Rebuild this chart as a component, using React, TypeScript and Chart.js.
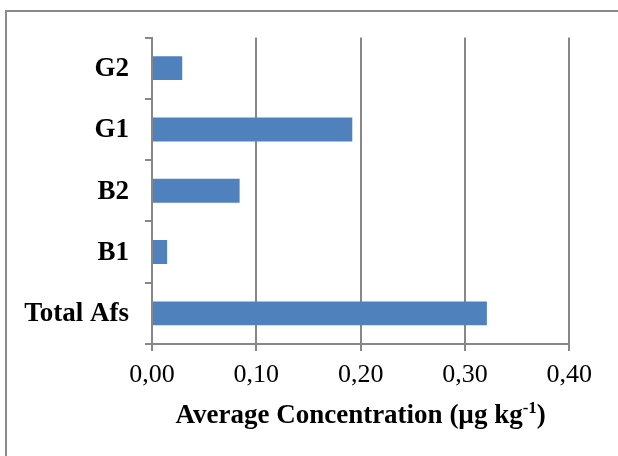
import React, { useEffect, useRef } from "react";
import { Chart, registerables } from "chart.js";

Chart.register(...registerables);

const categories = ["G2", "G1", "B2", "B1", "Total Afs"];
const averageConcentration = [0.029, 0.192, 0.084, 0.0145, 0.321];
const xTickMin = 0;
const xTickMax = 0.4;
const xTickStep = 0.1;
const titleMain = "Average Concentration (µg kg";
const titleSup = "-1";
const titleEnd = ")";

const GRAY = "#878787";
const SERIF = "'Liberation Serif', 'Times New Roman', serif";

export default function App() {
  const ref = useRef<HTMLCanvasElement | null>(null);

  useEffect(() => {
    document.body.style.margin = "0";
    const canvas = ref.current;
    if (!canvas) return;

    const framePlugin = {
      id: "frame",
      beforeDraw(chart: any) {
        const ctx = chart.ctx;
        ctx.save();
        ctx.strokeStyle = "#8a8a8a";
        ctx.lineWidth = 2;
        ctx.beginPath();
        ctx.moveTo(6, 470);
        ctx.lineTo(6, 11);
        ctx.lineTo(640, 11);
        ctx.stroke();
        ctx.restore();
      },
      afterDraw(chart: any) {
        const ctx = chart.ctx;
        const area = chart.chartArea;
        const cx = (area.left + area.right) / 2;
        const y = 423;
        ctx.save();
        ctx.fillStyle = "#000";
        ctx.textBaseline = "alphabetic";
        ctx.font = `bold 27px ${SERIF}`;
        const w1 = ctx.measureText(titleMain).width;
        const w3 = ctx.measureText(titleEnd).width;
        ctx.font = `bold 17px ${SERIF}`;
        const w2 = ctx.measureText(titleSup).width;
        const total = w1 + w2 + w3;
        let x = cx - total / 2;
        ctx.textAlign = "left";
        ctx.font = `bold 27px ${SERIF}`;
        ctx.fillText(titleMain, x, y);
        x += w1;
        ctx.font = `bold 17px ${SERIF}`;
        ctx.fillText(titleSup, x, y - 10);
        x += w2;
        ctx.font = `bold 27px ${SERIF}`;
        ctx.fillText(titleEnd, x, y);
        ctx.restore();
      },
    };

    const chart = new Chart(canvas, {
      type: "bar",
      data: {
        labels: categories,
        datasets: [
          {
            data: averageConcentration,
            backgroundColor: "#4F81BD",
            borderWidth: 0,
            categoryPercentage: 0.39,
            barPercentage: 1,
          },
        ],
      },
      options: {
        indexAxis: "y",
        responsive: false,
        animation: false,
        devicePixelRatio: 1,
        layout: { padding: { top: 37.5, right: 48.7, left: 0, bottom: 0 } },
        plugins: {
          legend: { display: false },
          tooltip: { enabled: false },
          title: { display: false },
        },
        scales: {
          x: {
            type: "linear",
            min: xTickMin,
            max: xTickMax,
            ticks: {
              stepSize: xTickStep,
              color: "#000",
              padding: 9,
              font: { family: SERIF, size: 26 },
              callback: (v: any) => Number(v).toFixed(2).replace(".", ","),
            },
            grid: {
              color: GRAY,
              lineWidth: 2,
              tickLength: 7,
              drawTicks: true,
            },
            border: { color: GRAY, width: 2 },
            afterFit: (scale: any) => {
              scale.height = 112;
            },
          },
          y: {
            type: "category",
            ticks: {
              color: "#000",
              padding: 16,
              labelOffset: 1,
              font: { family: SERIF, size: 27, weight: "bold" },
            },
            grid: {
              color: GRAY,
              lineWidth: 2,
              tickLength: 7,
              drawOnChartArea: false,
              drawTicks: true,
              offset: true,
            },
            border: { color: GRAY, width: 2 },
            afterFit: (scale: any) => {
              scale.width = 152;
            },
          },
        },
      },
      plugins: [framePlugin],
    });

    return () => chart.destroy();
  }, []);

  return (
    <div style={{ width: 618, height: 456 }}>
      <canvas ref={ref} width={618} height={456} style={{ display: "block" }} />
    </div>
  );
}
